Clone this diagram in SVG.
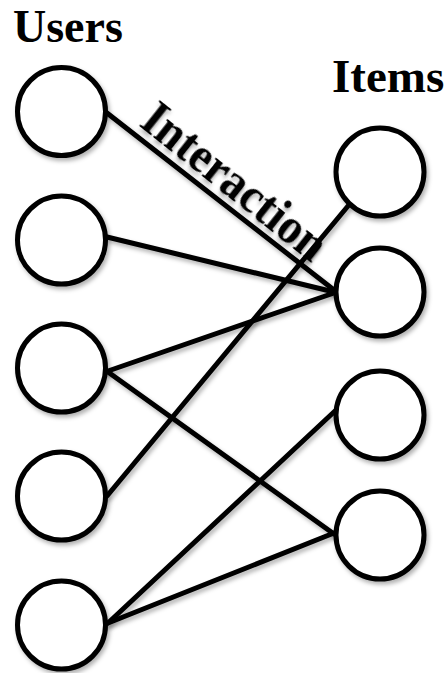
<svg xmlns="http://www.w3.org/2000/svg" width="448" height="673" viewBox="0 0 448 673">
<defs>
<filter id="sh" x="-20%" y="-20%" width="140%" height="140%">
<feDropShadow dx="2" dy="3" stdDeviation="2" flood-color="#000" flood-opacity="0.3"/>
</filter>
</defs>
<style>
.node{fill:#fff;stroke:#000;stroke-width:5;filter:url(#sh)}
.edge{stroke:#000;stroke-width:5;fill:none;stroke-linecap:round;filter:url(#sh)}
.title{font-family:"Liberation Serif","Times New Roman",serif;font-weight:bold;font-size:46px;fill:#000}
.lbl{font-family:"Liberation Serif","Times New Roman",serif;font-weight:bold;font-size:50px;fill:#000;filter:url(#sh)}
</style>
<rect width="448" height="673" fill="#fff"/>
<text class="title" x="13" y="42">Users</text>
<text class="title" x="332" y="92" style="font-size:47px">Items</text>
<g id="connectors">
<line class="edge" x1="107" y1="113" x2="334" y2="290"/>
<line class="edge" x1="107" y1="237" x2="334" y2="292"/>
<line class="edge" x1="108" y1="371" x2="334" y2="293"/>
<line class="edge" x1="108" y1="372" x2="334" y2="534"/>
<line class="edge" x1="107" y1="496" x2="348" y2="206"/>
<line class="edge" x1="108" y1="623" x2="335" y2="411"/>
<line class="edge" x1="108" y1="623" x2="334" y2="533"/>
</g>
<g id="label-interaction">
<text class="lbl" transform="translate(138,125) rotate(38.5) scale(0.93,1)">Interaction</text>
</g>
<g id="user1"><circle class="node" cx="61.5" cy="111.5" r="44"/></g>
<g id="user2"><circle class="node" cx="61.5" cy="240" r="44"/></g>
<g id="user3"><circle class="node" cx="61.5" cy="368" r="44"/></g>
<g id="user4"><circle class="node" cx="61.5" cy="496" r="44"/></g>
<g id="user5"><circle class="node" cx="61.5" cy="625" r="44"/></g>
<g id="item1"><circle class="node" cx="380" cy="172" r="44"/></g>
<g id="item2"><circle class="node" cx="380" cy="292" r="44"/></g>
<g id="item3"><circle class="node" cx="380" cy="415" r="44"/></g>
<g id="item4"><circle class="node" cx="380" cy="535" r="44"/></g>
</svg>
